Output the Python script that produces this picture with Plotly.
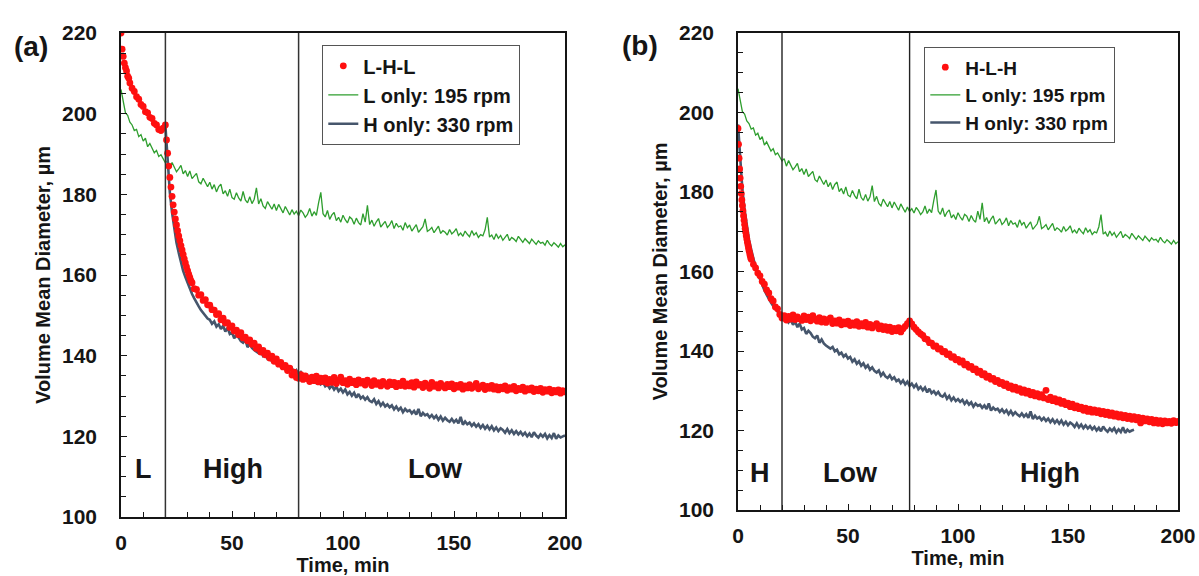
import numpy as np
import plotly.graph_objects as go

# ---------------- data ----------------
# time grids (min)
T_LHL = np.r_[np.arange(0, 4, 0.5), np.arange(4, 20, 1), np.arange(20, 32, 0.5), np.arange(32, 201, 1)]
T_HLH = np.r_[np.arange(0, 6, 0.25), np.arange(6, 201, 1)]
T_L_ONLY = np.arange(0, 201, 1)
T_H_ONLY = np.arange(0, 181, 1)
H_ONLY_SHIFT_A = 20  # H-only run plotted from the start of the High stage in panel (a)

# L-H-L experiment (panel a), volume mean diameter (um)
D_LHL = [
    220.0, 216.0, 214.2, 212.5, 211.4, 210.6, 209.3, 208.8,
    207.6, 206.3, 205.5, 204.2, 203.6, 202.3, 201.8, 200.5, 200.2, 199.1, 198.8, 197.6, 197.2, 196.1, 195.8, 196.4,
    197.2, 193.5, 190.2, 187.0, 184.2, 181.8, 179.5, 177.4, 175.6, 173.9, 172.4, 171.0,
    169.7, 168.5, 167.3, 166.2, 165.1, 164.0, 163.0, 162.0, 161.1, 160.2, 159.4, 158.6,
    158.1, 156.6, 156.4, 155.0, 155.1, 153.7, 153.9, 152.6, 152.5, 151.4,
    151.3, 150.2, 150.4, 148.9, 149.3, 148.1, 148.2, 147.0, 147.4, 146.1,
    146.3, 145.2, 145.7, 144.4, 144.6, 143.7, 143.9, 142.8, 143.1, 141.8,
    142.2, 140.9, 141.3, 140.2, 140.6, 139.4, 139.9, 138.6, 139.2, 137.9,
    138.3, 137.2, 137.6, 136.3, 136.9, 135.2, 135.9, 134.6, 134.4, 135.3,
    134.1, 135.0, 134.3, 133.6, 134.7, 133.8, 134.9, 133.5, 134.4, 133.6,
    134.5, 133.2, 134.1, 133.4, 134.6, 133.1, 133.9, 134.7, 133.3, 133.8,
    132.9, 134.2, 133.3, 133.7, 132.8, 134.0, 133.2, 133.6, 132.7, 133.9,
    133.4, 132.6, 133.8, 132.9, 133.3, 132.5, 133.6, 133.0, 132.4, 133.5,
    132.8, 133.4, 132.3, 133.1, 132.6, 133.7, 132.4, 133.0, 132.5, 133.3,
    132.2, 133.5, 132.7, 132.9, 132.1, 133.2, 132.6, 131.9, 133.4, 132.4,
    132.8, 132.0, 133.1, 132.5, 132.0, 132.9, 132.3, 133.0, 131.8, 132.6,
    132.2, 132.9, 131.7, 132.5, 132.0, 132.8, 131.9, 132.4, 133.1, 131.8,
    132.3, 132.7, 131.6, 132.4, 131.9, 132.6, 131.7, 132.3, 131.5, 132.2,
    131.8, 132.5, 131.4, 132.1, 131.7, 132.4, 131.3, 131.9, 131.6, 132.2,
    131.2, 131.8, 131.5, 132.0, 131.1, 131.7, 131.3, 131.9, 130.9, 131.6,
    131.2, 131.7, 130.8, 131.4, 131.0, 131.5, 130.7, 131.3, 131.0,
]

# H-L-H experiment (panel b)
D_HLH = [
    196.0, 192.0, 188.5, 185.8, 183.5, 181.4, 179.6, 178.0, 176.6, 175.3, 174.0, 172.9,
    171.8, 170.8, 169.9, 169.0, 168.2, 167.4, 166.7, 166.0, 165.3, 164.7, 164.1, 163.5,
    163.1, 161.8, 160.9, 159.6, 158.9, 157.5, 156.8, 155.4, 154.6, 153.2,
    152.6, 151.1, 150.6, 149.2, 148.3, 148.9, 147.8, 148.7, 148.0, 149.1,
    147.9, 148.6, 148.1, 147.7, 148.8, 147.9, 148.5, 147.6, 148.9, 148.0,
    147.5, 148.4, 147.3, 148.1, 147.2, 147.9, 148.3, 146.9, 147.6, 147.0,
    147.8, 146.6, 147.3, 146.8, 147.5, 146.4, 147.1, 146.5, 147.4, 146.2,
    146.9, 146.3, 147.2, 146.0, 146.7, 145.8, 146.4, 146.9, 145.6, 146.3,
    145.4, 146.1, 145.2, 146.0, 144.9, 145.7, 145.1, 145.9, 144.8, 145.6,
    146.2, 146.9, 147.6, 146.8, 146.0, 145.4, 144.8, 144.3, 143.9, 143.1,
    142.9, 142.1, 142.0, 141.2, 141.3, 140.5, 140.6, 139.8, 139.9, 139.1,
    139.3, 138.4, 138.6, 137.8, 137.9, 137.2, 137.5, 136.5, 136.7, 135.9,
    136.1, 135.3, 135.5, 134.6, 134.9, 134.0, 134.3, 133.4, 133.7, 132.9,
    133.1, 132.3, 132.6, 131.8, 132.1, 131.3, 131.7, 130.8, 131.2, 130.4,
    130.9, 130.1, 130.5, 129.6, 130.2, 129.4, 129.9, 129.0, 129.6, 128.7,
    129.3, 128.4, 129.0, 128.2, 130.1, 127.8, 128.4, 127.5, 128.0, 127.2,
    127.7, 126.8, 127.3, 126.5, 126.9, 126.0, 126.6, 125.7, 126.2, 125.5,
    125.9, 125.1, 125.6, 124.8, 125.4, 124.6, 125.2, 124.5, 125.0, 124.2,
    124.8, 124.0, 124.6, 123.8, 124.4, 123.6, 124.2, 123.4, 124.0, 123.2,
    123.8, 123.0, 123.6, 122.8, 123.5, 122.7, 123.3, 121.9, 123.1, 122.4,
    122.9, 122.2, 122.8, 121.9, 122.6, 121.8, 122.5, 121.7, 122.4, 121.9,
    122.3, 121.8, 122.5, 122.0, 122.3,
]

# L only: 195 rpm
D_L_ONLY = [
    206.0, 203.1, 200.2, 199.6, 197.9, 197.2, 195.8, 196.1, 194.3, 194.8,
    193.2, 193.9, 191.8, 192.6, 191.2, 190.3, 190.9, 189.4, 189.8, 188.6,
    187.8, 188.4, 186.5, 187.9, 186.9, 185.6, 186.3, 187.2, 185.1, 185.9,
    184.4, 185.8, 183.9, 184.6, 185.2, 183.1, 182.6, 184.0, 182.9, 181.9,
    183.0, 181.3, 182.4, 180.6, 181.9, 182.5, 180.1, 180.9, 179.5, 181.3,
    179.2, 178.8, 180.4, 179.1, 178.3, 180.7, 178.6, 177.9, 179.4, 177.7,
    178.8, 181.6, 177.6, 178.9, 177.1, 176.5, 178.2, 177.3, 176.3, 177.6,
    176.0, 177.5, 176.6, 175.4, 177.0, 175.9, 174.9, 176.2, 175.1, 175.8,
    174.7, 176.1, 175.4, 174.3, 175.0, 176.5, 174.6, 175.7, 174.8, 177.9,
    180.5, 175.2, 174.4, 176.0, 173.8, 174.9, 175.5, 173.5, 174.3, 173.1,
    174.8, 173.7, 172.9, 174.4, 173.9, 172.6, 174.1, 173.0, 172.4, 175.2,
    173.1, 177.3, 172.5, 173.6, 172.1, 173.2, 174.0, 171.9, 172.7, 173.3,
    171.8, 172.4, 173.5, 171.5, 172.8, 171.9, 172.2, 171.1, 173.0, 171.7,
    172.4, 170.9, 171.7, 172.5, 170.6, 171.4, 172.0, 173.9, 170.8, 171.2,
    171.8, 170.5, 171.2, 172.1, 170.3, 171.0, 170.6, 169.9, 171.3, 170.2,
    170.7, 171.5, 169.8, 170.4, 169.6, 170.9, 170.1, 169.5, 171.0, 169.9,
    170.5, 169.3, 170.0, 169.7, 171.2, 174.3, 169.4, 169.9, 168.8, 170.2,
    169.1, 169.8, 168.6, 169.5, 170.1, 168.5, 169.3, 168.9, 168.3, 169.6,
    168.7, 168.1, 169.0, 168.4, 167.8, 168.9, 168.2, 167.6, 168.5, 167.9,
    168.1, 167.4, 168.6, 167.7, 167.2, 168.0, 167.5, 166.9, 167.8, 167.0,
    167.5,
]

# H only: 330 rpm
D_H_ONLY = [
    197.0, 187.5, 180.5, 175.5, 171.5, 168.0, 165.5, 163.0, 161.0, 159.5,
    158.0, 156.6, 155.3, 154.2, 153.0, 152.2, 151.3, 150.5, 149.9, 149.2,
    148.9, 147.9, 148.5, 147.2, 147.8, 146.6, 147.4, 146.0, 146.9, 145.4,
    145.8, 144.3, 145.1, 144.5, 143.6, 143.2, 143.9, 142.1, 142.9, 141.9,
    141.4, 141.1, 140.6, 141.0, 139.9, 140.3, 139.2, 139.6, 138.6, 139.1,
    138.1, 138.5, 137.3, 137.9, 136.8, 137.4, 136.3, 136.9, 135.8, 136.4,
    135.3, 135.9, 135.0, 134.6, 135.1, 133.8, 134.5, 133.6, 133.2, 133.9,
    132.9, 133.4, 132.4, 132.8, 131.9, 132.6, 131.6, 132.3, 131.2, 131.8,
    130.9, 131.6, 130.4, 131.0, 130.1, 130.8, 129.6, 130.5, 129.4, 129.9,
    129.1, 129.7, 128.8, 128.5, 129.2, 128.0, 128.7, 127.6, 128.3, 127.4,
    127.9, 127.2, 127.7, 126.7, 127.4, 126.5, 127.1, 126.0, 126.8, 126.2,
    126.5, 125.7, 126.3, 125.4, 126.8, 125.0, 125.8, 125.2, 125.5, 124.7,
    125.3, 124.5, 125.1, 124.1, 124.9, 123.9, 124.6, 124.0, 123.6, 124.3,
    123.5, 124.1, 123.2, 124.8, 122.9, 123.7, 123.0, 123.4, 122.6, 123.2,
    122.4, 123.0, 122.1, 122.8, 121.9, 122.6, 121.7, 122.5, 121.5, 122.2,
    121.3, 122.0, 121.6, 120.9, 121.8, 120.8, 121.5, 120.6, 121.3, 120.5,
    121.1, 120.3, 120.9, 120.0, 120.7, 119.8, 121.0, 120.2, 119.7, 120.5,
    119.9, 120.6, 119.5, 120.3, 119.6, 120.8, 119.4, 120.2, 119.7, 120.0,
    120.2,
]

assert len(T_LHL) == len(D_LHL), (len(T_LHL), len(D_LHL))
assert len(T_HLH) == len(D_HLH), (len(T_HLH), len(D_HLH))
assert len(T_L_ONLY) == len(D_L_ONLY), (len(T_L_ONLY), len(D_L_ONLY))
assert len(T_H_ONLY) == len(D_H_ONLY), (len(T_H_ONLY), len(D_H_ONLY))

SWITCH_A = [20, 80]
SWITCH_B = [20, 78]
STAGE_A = ["L", "High", "Low"]
STAGE_A_X = [10, 50.5, 141.5]
STAGE_A_Y = 111.8
STAGE_B = ["H", "Low", "High"]
STAGE_B_X = [9.8, 51, 141.6]
STAGE_B_Y = 109.4

X_TICKS = [0, 50, 100, 150, 200]
Y_TICKS = [100, 120, 140, 160, 180, 200, 220]

# ---------------- styling ----------------
W, H = 1199, 576
FONT = "Liberation Sans, Arial, sans-serif"
RED = "#ff1010"
GREEN = "#2e9e2e"
SLATE = "#46566c"
INK = "#151515"

fig = go.Figure()

def add_panel(xa, ya, leg, red_name, t_red, d_red, h_shift):
    fig.add_trace(go.Scatter(x=T_L_ONLY, y=D_L_ONLY, mode="lines", name="L only: 195 rpm",
                             line=dict(color=GREEN, width=1.3), xaxis=xa, yaxis=ya,
                             legend=leg, legendrank=2))
    fig.add_trace(go.Scatter(x=T_H_ONLY + h_shift, y=D_H_ONLY, mode="lines", name="H only: 330 rpm",
                             line=dict(color=SLATE, width=2.6), xaxis=xa, yaxis=ya,
                             legend=leg, legendrank=3))
    fig.add_trace(go.Scatter(x=t_red, y=d_red, mode="markers", name=red_name,
                             marker=dict(color=RED, size=6.8, line=dict(width=0)), xaxis=xa, yaxis=ya,
                             legend=leg, legendrank=1))

add_panel("x", "y", "legend", "L-H-L", T_LHL, D_LHL, H_ONLY_SHIFT_A)
add_panel("x2", "y2", "legend2", "H-L-H", T_HLH, D_HLH, 0)

tickfont = dict(family=FONT, size=21, color=INK, weight="bold")
titlefont = dict(family=FONT, size=20, color=INK, weight="bold")

def xaxis_cfg(domain, anchor):
    return dict(domain=domain, anchor=anchor, range=[0, 200], tickvals=X_TICKS, automargin=False,
                showline=True, linecolor=INK, linewidth=1.6, mirror=True,
                ticks="inside", ticklen=6, tickwidth=1.3, tickcolor=INK,
                minor=dict(ticks="inside", ticklen=5, tickwidth=1.2, tickcolor=INK, dtick=10, showgrid=False),
                showgrid=False, zeroline=False, tickfont=tickfont, ticklabelstandoff=6,
                title=dict(text="Time, min", font=titlefont, standoff=4))

def yaxis_cfg(domain, anchor):
    return dict(domain=domain, anchor=anchor, range=[100, 220], tickvals=Y_TICKS, automargin=False,
                showline=True, linecolor=INK, linewidth=1.6, mirror=True,
                ticks="inside", ticklen=6, tickwidth=1.3, tickcolor=INK,
                minor=dict(ticks="inside", ticklen=5, tickwidth=1.2, tickcolor=INK, dtick=5, showgrid=False),
                showgrid=False, zeroline=False, tickfont=tickfont, ticklabelstandoff=18,
                title=dict(text="Volume Mean Diameter, µm", font=titlefont, standoff=6))

xa_dom = [121 / W, 565 / W]
xb_dom = [738 / W, 1178 / W]
ya_dom = [1 - 517 / H, 1 - 33 / H]
yb_dom = [1 - 510 / H, 1 - 33 / H]

legend_common = dict(xanchor="left", yanchor="top", bgcolor="white", bordercolor="#555",
                     borderwidth=1.3, traceorder="normal", itemwidth=30)

shapes = []
for sx in SWITCH_A:
    shapes.append(dict(type="line", xref="x", yref="y domain", x0=sx, x1=sx, y0=0, y1=1,
                       line=dict(color="#333", width=1.5)))
for sx in SWITCH_B:
    shapes.append(dict(type="line", xref="x2", yref="y2 domain", x0=sx, x1=sx, y0=0, y1=1,
                       line=dict(color="#222", width=1.4)))

annotations = []
for lab, lx in zip(STAGE_A, STAGE_A_X):
    annotations.append(dict(text=lab, x=lx, y=STAGE_A_Y, xref="x", yref="y", showarrow=False,
                            xanchor="center", yanchor="middle",
                            font=dict(family=FONT, size=27, color=INK, weight="bold")))
for lab, lx in zip(STAGE_B, STAGE_B_X):
    annotations.append(dict(text=lab, x=lx, y=STAGE_B_Y, xref="x2", yref="y2", showarrow=False,
                            xanchor="center", yanchor="middle",
                            font=dict(family=FONT, size=27, color=INK, weight="bold")))
annotations.append(dict(text="(a)", x=31 / W, y=1 - 46 / H, xref="paper", yref="paper", showarrow=False,
                        xanchor="center", yanchor="middle",
                        font=dict(family=FONT, size=28, color=INK, weight="bold")))
annotations.append(dict(text="(b)", x=640 / W, y=1 - 45 / H, xref="paper", yref="paper", showarrow=False,
                        xanchor="center", yanchor="middle",
                        font=dict(family=FONT, size=28, color=INK, weight="bold")))

fig.update_layout(
    width=W, height=H, margin=dict(l=0, r=0, t=0, b=0, autoexpand=False),
    paper_bgcolor="white", plot_bgcolor="white",
    xaxis=xaxis_cfg(xa_dom, "y"), yaxis=yaxis_cfg(ya_dom, "x"),
    xaxis2=xaxis_cfg(xb_dom, "y2"), yaxis2=yaxis_cfg(yb_dom, "x2"),
    legend=dict(x=322 / W, y=1 - 45 / H,
                font=dict(family=FONT, size=20, color=INK, weight="bold"), **legend_common),
    legend2=dict(x=924 / W, y=1 - 47 / H,
                 font=dict(family=FONT, size=19, color=INK, weight="bold"), **legend_common),
    shapes=shapes, annotations=annotations, showlegend=True,
)

fig.write_html("out.html")
